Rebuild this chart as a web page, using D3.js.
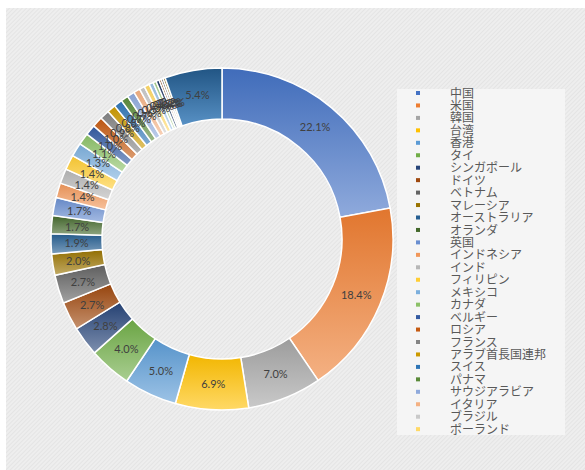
<!DOCTYPE html>
<html>
<head>
<meta charset="utf-8">
<script src="https://cdn.jsdelivr.net/npm/d3@7"></script>
<style>
  body { margin: 0; background: #fff; }
  svg { display: block; }
  .slice-label { font-family: Lato, "Open Sans", sans-serif; font-size: 11px; fill: #404040; }
  .legend-text { font-family: "Noto Sans CJK JP", sans-serif; font-size: 12px; fill: #595959; }
</style>
</head>
<body>
<div id="chart"></div>
<script>
// Countries shown in the legend (first 28) plus the small unlisted slices
const countries = [
  "中国", "米国", "韓国", "台湾", "香港", "タイ", "シンガポール", "ドイツ", "ベトナム",
  "マレーシア", "オーストラリア", "オランダ", "英国", "インドネシア", "インド", "フィリピン",
  "メキシコ", "カナダ", "ベルギー", "ロシア", "フランス", "アラブ首長国連邦", "スイス",
  "パナマ", "サウジアラビア", "イタリア", "ブラジル", "ポーランド",
  "その他1", "その他2", "その他3", "その他4", "その他5", "その他6", "その他"
];

// Share in percent
const shares = [
  22.1, 18.4, 7.0, 6.9, 5.0, 4.0, 2.8, 2.7, 2.7,
  2.0, 1.9, 1.7, 1.7, 1.4, 1.4, 1.4,
  1.3, 1.1, 1.0, 1.0, 0.9, 0.8, 0.8,
  0.7, 0.7, 0.6, 0.5, 0.5,
  0.4, 0.3, 0.3, 0.2, 0.2, 0.2, 5.4
];

// Office palette order for many points
const palette = [
  "#4472C4", "#ED7D31", "#A5A5A5", "#FFC000", "#5B9BD5", "#70AD47",
  "#264478", "#9E480E", "#636363", "#997300", "#255E91", "#43682B",
  "#698ED0", "#F1975A", "#B7B7B7", "#FFCD33", "#7CAFDD", "#8CC168",
  "#335AA1", "#C55A11", "#848484", "#CC9A00", "#2E75B6", "#5A8A39",
  "#8FAADC", "#F4B183", "#C9C9C9", "#FFD966", "#9DC3E6", "#A9D18E",
  "#203864", "#843C0C", "#525252", "#7F6000", "#2E75B6"
];

const legendCount = 28;

const width = 585, height = 470;
const cx = 222, cy = 239;
const outerR = 171, innerR = 120;

const svg = d3.select("#chart").append("svg")
  .attr("width", width)
  .attr("height", height);

const defs = svg.append("defs");

// fine diagonal hatch like the original background
const hatch = defs.append("pattern")
  .attr("id", "hatch")
  .attr("patternUnits", "userSpaceOnUse")
  .attr("width", 3).attr("height", 3)
  .attr("patternTransform", "rotate(45)");
hatch.append("rect").attr("width", 3).attr("height", 3).attr("fill", "#eeeeee");
hatch.append("rect").attr("width", 1).attr("height", 3).attr("fill", "#e4e4e4");

svg.append("rect")
  .attr("x", 6).attr("y", 8)
  .attr("width", width - 6).attr("height", height - 8)
  .attr("fill", "url(#hatch)");

const data = countries.map((name, i) => ({ name, value: shares[i], color: palette[i % palette.length] }));

// vertical gradient per slice: base colour at top, lighter at bottom
data.forEach((d, i) => {
  const last = i === data.length - 1;
  const g = defs.append("linearGradient")
    .attr("id", `grad${i}`)
    .attr("x1", 0).attr("y1", 0).attr("x2", 0).attr("y2", 1);
  g.append("stop").attr("offset", "0%")
    .attr("stop-color", d3.color(d.color).darker(last ? 0.9 : 0.15));
  g.append("stop").attr("offset", "100%")
    .attr("stop-color", d3.interpolateRgb(d.color, "#ffffff")(last ? 0.2 : 0.4));
});

const pie = d3.pie().sort(null).value((d) => d.value);
const arc = d3.arc().innerRadius(innerR).outerRadius(outerR);
const labelArc = d3.arc().innerRadius((innerR + outerR) / 2).outerRadius((innerR + outerR) / 2);

const plot = svg.append("g").attr("transform", `translate(${cx},${cy})`);
const arcs = pie(data);

plot.selectAll("path.slice")
  .data(arcs)
  .join("path")
  .attr("class", "slice")
  .attr("d", arc)
  .attr("fill", (d, i) => `url(#grad${i})`)
  .attr("stroke", "#ffffff")
  .attr("stroke-width", 1.5);

plot.selectAll("text.slice-label")
  .data(arcs)
  .join("text")
  .attr("class", "slice-label")
  .attr("transform", (d) => `translate(${labelArc.centroid(d)})`)
  .attr("text-anchor", "middle")
  .attr("dy", "0.35em")
  .text((d) => `${d.data.value.toFixed(1)}%`);

// legend box
const legendX = 397, legendY = 89, rowH = 12.45;
svg.append("rect")
  .attr("x", legendX).attr("y", legendY)
  .attr("width", 168).attr("height", 346)
  .attr("fill", "#f5f5f5");

const legend = svg.append("g");
const rows = legend.selectAll("g")
  .data(data.slice(0, legendCount))
  .join("g")
  .attr("transform", (d, i) => `translate(0,${legendY + 4 + i * rowH})`);

rows.append("rect")
  .attr("x", 416).attr("y", -2)
  .attr("width", 4).attr("height", 4)
  .attr("fill", (d) => d.color);

rows.append("text")
  .attr("class", "legend-text")
  .attr("x", 450)
  .attr("dy", "0.38em")
  .text((d) => d.name);
</script>
</body>
</html>
